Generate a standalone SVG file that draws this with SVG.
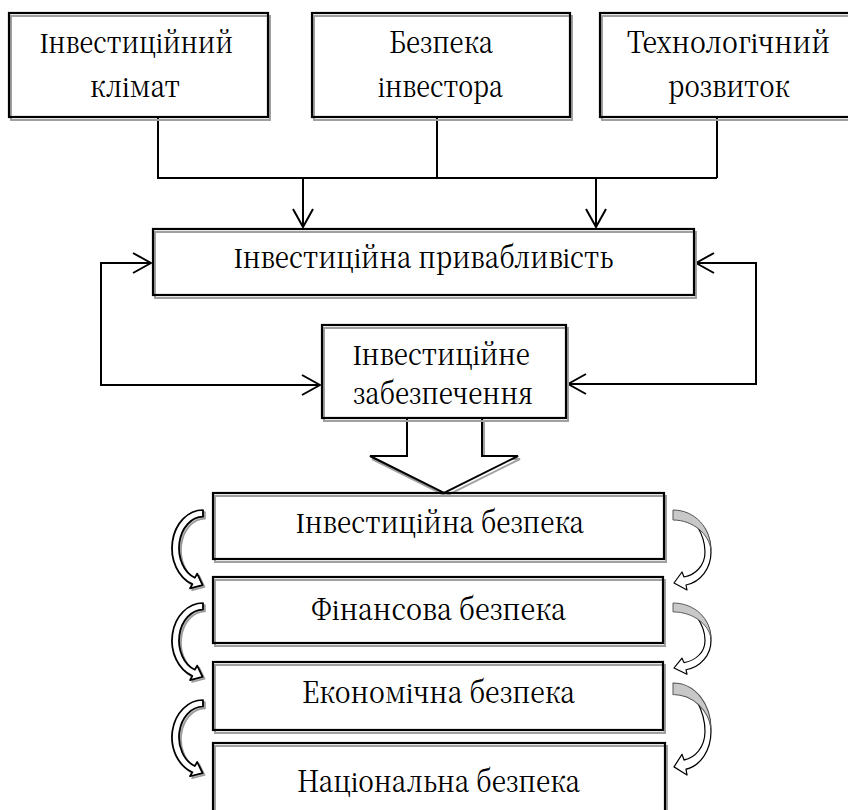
<svg xmlns="http://www.w3.org/2000/svg" width="848" height="810" viewBox="0 0 848 810">
<style>
.bx{fill:none;stroke:#000;stroke-width:2.2}
.sh{fill:none;stroke:#a0a0a0;stroke-width:2}
.t{font-family:'Noto Serif CJK SC','Liberation Serif',serif;font-size:30px;fill:#000;text-anchor:middle}
.ln{fill:none;stroke:#000;stroke-width:2}
.ca{fill:#fff;stroke:#000;stroke-width:1.8;stroke-linejoin:round}
.cs{fill:#bdbdbd;stroke:#9a9a9a;stroke-width:1.6;stroke-linejoin:round}
.cr{fill:#c8c8c8;stroke:#555;stroke-width:1;stroke-linejoin:round}
.wb{fill:#fff;stroke:#000;stroke-width:1.2;stroke-linejoin:round}
</style>
<defs>
<marker id="v" viewBox="0 0 20 22" refX="19" refY="11" markerWidth="20" markerHeight="22" markerUnits="userSpaceOnUse" orient="auto-start-reverse">
<path d="M1,1 L19,11 L1,21" fill="none" stroke="#000" stroke-width="2"/>
</marker>
<path id="la" d="M0 0 A31 40 0 0 0 -10.6 77.6 L-13 82 L-0.4 78.6 L-5.8 66.6 L-8.2 71 A24 33 0 0 1 0 7 Z"/>
<path id="rb" d="M27 13 C34 20 38 30 38 42 C38 58 28 72 13 75 L14 80 L1 73 L9 62 L11 67 C22 65 32 56 32 42 C32 32 29 24 24 16 Z"/>
<path id="rc" d="M0 0 C22 0 38 18 38 40 C36 24 20 10 0 10 Z"/>
</defs>
<rect width="848" height="810" fill="#fff"/>

<g id="connectors">
<polyline class="ln" points="158,117 158,178 717,178"/>
<line class="ln" x1="437" y1="117" x2="437" y2="178"/>
<line class="ln" x1="717" y1="117" x2="717" y2="178"/>
<line class="ln" x1="303" y1="178" x2="303" y2="227" marker-end="url(#v)"/>
<line class="ln" x1="596" y1="178" x2="596" y2="227" marker-end="url(#v)"/>
<polyline class="ln" points="151,263 101,263 101,385 320,385" marker-start="url(#v)" marker-end="url(#v)"/>
<polyline class="ln" points="696,263 756,263 756,384 568,384" marker-start="url(#v)" marker-end="url(#v)"/>
<polygon points="409,421 409,459 372,459 446,496 520,459 484,459 484,421" fill="none" stroke="#a0a0a0" stroke-width="2"/>
<polygon points="407,418 407,456 370,456 444,493 518,456 482,456 482,418" fill="#fff" stroke="#000" stroke-width="2"/>
<g id="left-curves">
<use href="#la" class="cs" transform="translate(205,512) scale(1,0.955)"/>
<use href="#la" class="ca" transform="translate(203,510) scale(1,0.955)"/>
<use href="#la" class="cs" transform="translate(205,605) scale(1,0.94)"/>
<use href="#la" class="ca" transform="translate(203,603) scale(1,0.94)"/>
<use href="#la" class="cs" transform="translate(205,702) scale(1,0.93)"/>
<use href="#la" class="ca" transform="translate(203,700) scale(1,0.93)"/>
</g>
<g id="right-curves">
<g transform="translate(673,510)"><use href="#rb" class="wb"/><use href="#rc" class="cr"/></g>
<g transform="translate(673,603) scale(1,0.89)"><use href="#rb" class="wb"/><use href="#rc" class="cr"/></g>
<g transform="translate(673,683) scale(1,1.15)"><use href="#rb" class="wb"/><use href="#rc" class="cr"/></g>
</g>
</g>

<g id="n1"><rect class="sh" x="11" y="16" width="259" height="104"/><rect class="bx" x="9" y="13" width="259" height="104"/><text class="t" x="136.5" y="53" textLength="193" lengthAdjust="spacingAndGlyphs">Інвестиційний</text><text class="t" x="135" y="97" textLength="90" lengthAdjust="spacingAndGlyphs">клімат</text></g>
<g id="n2"><rect class="sh" x="314" y="16" width="258" height="104"/><rect class="bx" x="312" y="13" width="258" height="104"/><text class="t" x="441" y="53" textLength="104" lengthAdjust="spacingAndGlyphs">Безпека</text><text class="t" x="440.5" y="97" textLength="125" lengthAdjust="spacingAndGlyphs">інвестора</text></g>
<g id="n3"><rect class="sh" x="602" y="16" width="258" height="104"/><rect class="bx" x="600" y="13" width="258" height="104"/><text class="t" x="728.5" y="53" textLength="203" lengthAdjust="spacingAndGlyphs">Технологічний</text><text class="t" x="729" y="97" textLength="122" lengthAdjust="spacingAndGlyphs">розвиток</text></g>
<g id="n4"><rect class="sh" x="155" y="232" width="541" height="66"/><rect class="bx" x="153" y="229" width="541" height="66"/><text class="t" x="423.5" y="268" textLength="379" lengthAdjust="spacingAndGlyphs">Інвестиційна привабливість</text></g>
<g id="n5"><rect class="sh" x="324" y="328" width="244" height="93"/><rect class="bx" x="322" y="325" width="244" height="93"/><text class="t" x="441.5" y="365" textLength="177" lengthAdjust="spacingAndGlyphs">Інвестиційне</text><text class="t" x="443" y="404" textLength="180" lengthAdjust="spacingAndGlyphs">забезпечення</text></g>
<g id="n6"><rect class="sh" x="215" y="496" width="451" height="66"/><rect class="bx" x="213" y="493" width="451" height="66"/><text class="t" x="440" y="533" textLength="288" lengthAdjust="spacingAndGlyphs">Інвестиційна безпека</text></g>
<g id="n7"><rect class="sh" x="215" y="580" width="450" height="66"/><rect class="bx" x="213" y="577" width="450" height="66"/><text class="t" x="438.5" y="620" textLength="255" lengthAdjust="spacingAndGlyphs">Фінансова безпека</text></g>
<g id="n8"><rect class="sh" x="215" y="665" width="450" height="68"/><rect class="bx" x="213" y="662" width="450" height="68"/><text class="t" x="438.5" y="703" textLength="273" lengthAdjust="spacingAndGlyphs">Економічна безпека</text></g>
<g id="n9"><rect class="sh" x="215" y="746" width="452" height="70"/><rect class="bx" x="213" y="743" width="452" height="70"/><text class="t" x="438.5" y="792" textLength="283" lengthAdjust="spacingAndGlyphs">Національна безпека</text></g>
</svg>
